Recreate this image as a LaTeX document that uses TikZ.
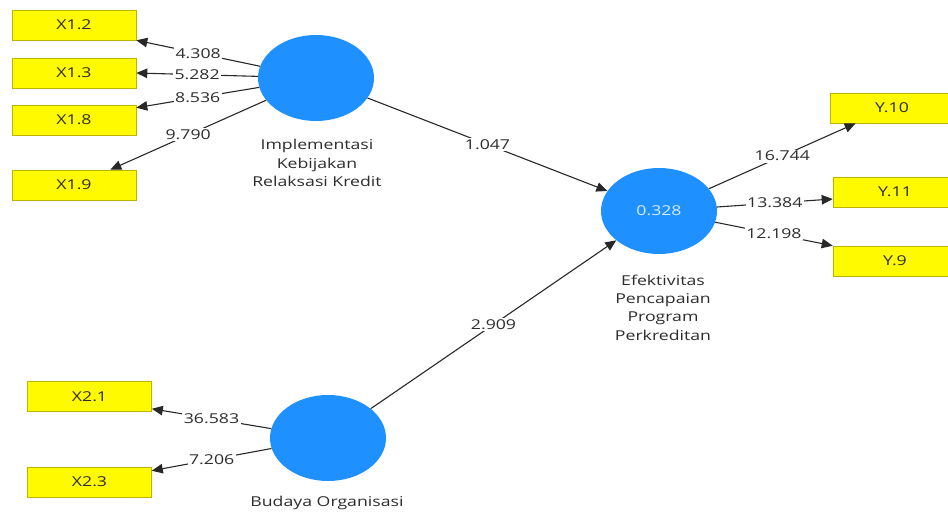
\documentclass[tikz,border=0pt]{standalone}
\usepackage{fontspec}
\setmainfont[FakeStretch=1.3]{Open Sans}
\usetikzlibrary{arrows.meta,shapes.geometric}
\definecolor{lv}{RGB}{30,144,255}
\definecolor{boxborder}{RGB}{190,180,0}
\definecolor{boxfill}{RGB}{255,250,0}
\definecolor{txt}{RGB}{45,45,45}
\definecolor{linec}{RGB}{40,40,40}
\definecolor{intxt}{RGB}{215,235,255}
\begin{document}
\begin{tikzpicture}[x=1pt,y=-1pt,
  ind/.style={draw=boxborder, line width=0.6pt, fill=boxfill, minimum width=124pt, minimum height=30pt, inner sep=0pt, font=\fontsize{13.6}{15}\selectfont, text=txt},
  lat/.style={ellipse, fill=lv, minimum width=116pt, minimum height=86pt, inner sep=0pt, font=\fontsize{13.6}{15}\selectfont, text=intxt},
  latcap/.style={align=center, inner sep=0pt, font=\fontsize{13.6}{18.3}\selectfont, text=txt},
  arr/.style={draw=linec, line width=1.1pt, -{Triangle[length=11pt,width=9.5pt]}},
  lbl/.style={fill=white, inner sep=1.5pt, font=\fontsize{13.6}{15}\selectfont, text=txt}]
\fill[white] (0,0) rectangle (948,514);
\useasboundingbox (0,0) rectangle (948,514);

% indicators
\node[ind] (x12) at (74,25) {X1.2};
\node[ind] (x13) at (74,73) {X1.3};
\node[ind] (x18) at (74,120) {X1.8};
\node[ind] (x19) at (74,185) {X1.9};
\node[ind] (x21) at (89.5,396.5) {X2.1};
\node[ind] (x23) at (89.5,482) {X2.3};
\node[ind] (y10) at (892,108) {Y.10};
\node[ind] (y11) at (895,192) {Y.11};
\node[ind] (y9) at (895,261) {Y.9};

% latent variables
\node[lat] (imp) at (316,78) {};
\node[lat] (eff) at (659,211) {0.328};
\node[lat] (bud) at (328,438) {};

\node[latcap] (impcap) at (317,163) {Implementasi\\Kebijakan\\Relaksasi Kredit};
\node[latcap] (effcap) at (663,307.5) {Efektivitas\\Pencapaian\\Program\\Perkreditan};
\node[latcap] (budcap) at (327,503) {Budaya Organisasi};

% outer loadings
\draw[arr] (imp) -- node[lbl]{4.308} (x12.south east);
\draw[arr] (imp) -- node[lbl]{5.282} (x13.east);
\draw[arr] (imp) -- node[lbl]{8.536} ([yshift=-3pt]x18.north east);
\draw[arr] (imp) -- node[lbl]{9.790} ([xshift=-26pt]x19.north east);
\draw[arr] (bud) -- node[lbl]{36.583} ([yshift=3pt]x21.south east);
\draw[arr] (bud) -- node[lbl]{7.206} ([yshift=-4pt]x23.north east);
\draw[arr] (eff) -- node[lbl]{16.744} ([xshift=26pt]y10.south west);
\draw[arr] (eff) -- node[lbl]{13.384} ([yshift=-7pt]y11.west);
\draw[arr] (eff) -- node[lbl]{12.198} (y9.north west);

% structural paths
\draw[arr] (imp) -- node[lbl]{1.047} (eff);
\draw[arr] (bud) -- node[lbl]{2.909} (eff);
\end{tikzpicture}
\end{document}
